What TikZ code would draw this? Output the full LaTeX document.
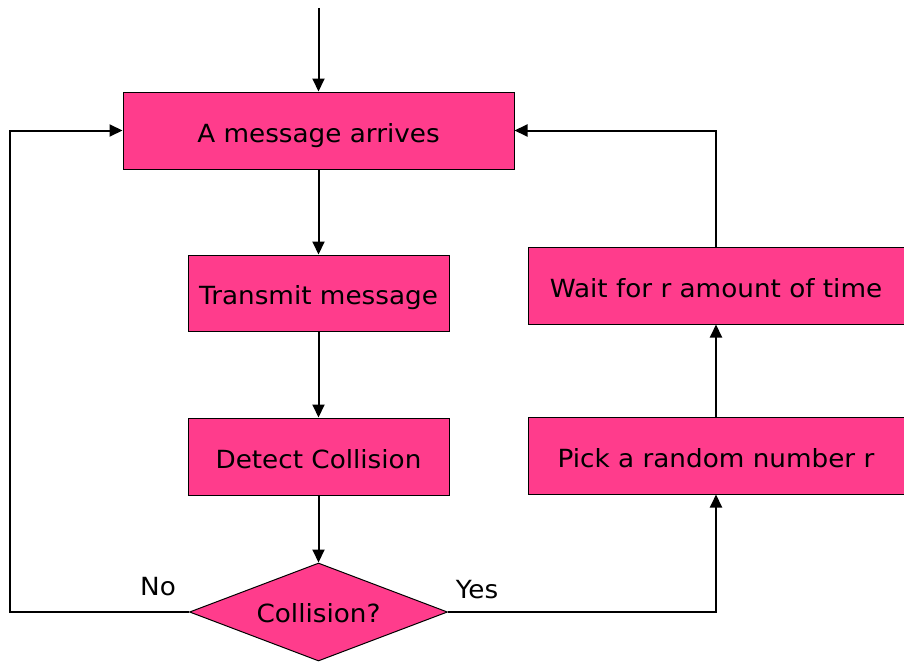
\documentclass[tikz,border=0pt]{standalone}
\usepackage{fontspec}
\setmainfont{DejaVu Sans}[FakeStretch=1.05]
\usetikzlibrary{arrows.meta,shapes.geometric}
\definecolor{boxpink}{RGB}{255,60,140}
\begin{document}
\begin{tikzpicture}[x=1pt,y=-1pt,
  txt/.style={font=\fontsize{25}{29}\selectfont},
  box/.style={txt,draw=black,line width=1pt,fill=boxpink,inner sep=0pt,text height=23pt,text depth=0pt},
  dec/.style={txt,diamond,draw=black,line width=1pt,fill=boxpink,inner sep=0pt,aspect=2.63,minimum width=258pt,minimum height=98pt,text height=20pt,text depth=0pt},
  conn/.style={line width=2pt,-{Triangle[length=13pt,width=12pt]}}]
\useasboundingbox (0,0) rectangle (904,661);
\node[box,minimum width=391pt,minimum height=77pt] (msg) at (318.5,130.5) {A message arrives};
\node[box,minimum width=261pt,minimum height=76pt] (tx) at (318.5,293) {Transmit message};
\node[box,minimum width=261pt,minimum height=77pt] (det) at (318.5,456.5) {Detect Collision};
\node[dec] (col) at (318.5,612) {Collision?};
\node[box,minimum width=376pt,minimum height=77pt] (pick) at (716,455.5) {Pick a random number r};
\node[box,minimum width=376pt,minimum height=77pt] (wait) at (716,285.5) {Wait for r amount of time};
\coordinate (start) at (318.5,8);
\draw[conn] (start) -- (msg.north);
\draw[conn] (msg) -- (tx);
\draw[conn] (tx) -- (det);
\draw[conn] (det) -- (col.north);
\draw[conn] (col.west) -- (10,612) |- (msg.west);
\draw[conn] (col.east) -| (pick.south);
\draw[conn] (pick) -- (wait);
\draw[conn] (wait.north) |- (msg.east);
\node[txt,anchor=base] (no) at (158,595) {No};
\node[txt,anchor=base] (yes) at (477,598) {Yes};
\end{tikzpicture}
\end{document}
